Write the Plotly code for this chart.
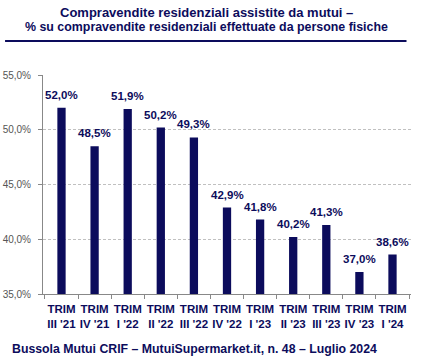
import plotly.graph_objects as go

categories = ["TRIM<br>III '21", "TRIM<br>IV '21", "TRIM<br>I '22", "TRIM<br>II '22", "TRIM<br>III '22",
              "TRIM<br>IV '22", "TRIM<br>I '23", "TRIM<br>II '23", "TRIM<br>III '23", "TRIM<br>IV '23",
              "TRIM<br>I '24"]
values = [52.0, 48.5, 51.9, 50.2, 49.3, 42.9, 41.8, 40.2, 41.3, 37.0, 38.6]
y_ticks = [35, 40, 45, 50, 55]
y_tick_labels = ["35,0%", "40,0%", "45,0%", "50,0%", "55,0%"]

title_lines = ["Compravendite residenziali assistite da mutui –",
               "% su compravendite residenziali effettuate da persone fisiche"]
footer = "Bussola Mutui CRIF – MutuiSupermarket.it, n. 48 – Luglio 2024"

NAVY = "#0c0c5c"
FONT = "Liberation Sans, Arial"
W, H = 422, 364
L, R, T, B = 43, 10.5, 75, 70
ph = H - T - B
pw = W - L - R

def py(y):  # pixel y from top -> paper
    return (H - B - y) / ph

def px(x):
    return (x - L) / pw

fig = go.Figure()
fig.add_trace(go.Bar(x=categories, y=values, marker_color=NAVY, marker_line_width=0,
                     width=0.25, hoverinfo="skip"))

for c, v in zip(categories, values):
    fig.add_annotation(x=c, y=v, xref="x", yref="y", text="<b>%s%%</b>" % f"{v:.1f}".replace(".", ","),
                       showarrow=False, yanchor="bottom", yshift=5,
                       font=dict(family=FONT, size=11.5, color=NAVY))

fig.add_annotation(xref="paper", yref="paper", x=px(207), y=py(13), text="<b>%s</b>" % title_lines[0],
                   showarrow=False, xanchor="center", yanchor="middle",
                   font=dict(family=FONT, size=13, color=NAVY))
fig.add_annotation(xref="paper", yref="paper", x=px(207), y=py(27), text="<b>%s</b>" % title_lines[1],
                   showarrow=False, xanchor="center", yanchor="middle",
                   font=dict(family=FONT, size=12.4, color=NAVY))
fig.add_annotation(xref="paper", yref="paper", x=px(10), y=py(349), text="<b>%s</b>" % footer,
                   showarrow=False, xanchor="left", yanchor="middle",
                   font=dict(family=FONT, size=12.3, color=NAVY))
fig.add_shape(type="line", xref="paper", yref="paper", x0=px(5), x1=px(407), y0=py(41), y1=py(41),
              line=dict(color=NAVY, width=2))

fig.update_layout(
    width=W, height=H, margin=dict(l=L, r=R, t=T, b=B, autoexpand=False),
    paper_bgcolor="white", plot_bgcolor="white", showlegend=False,
    bargap=0.75,
    xaxis=dict(showline=True, linecolor="#888888", linewidth=1, ticks="outside", tickson="boundaries",
               ticklen=4, tickcolor="#888888", showgrid=False, automargin=False,
               tickvals=categories, ticktext=["<b>%s</b>" % c for c in categories],
               tickfont=dict(family=FONT, size=11.5, color=NAVY), ticklabelstandoff=4,
               tickangle=0),
    yaxis=dict(range=[35, 55], tickvals=y_ticks, ticktext=y_tick_labels, automargin=False,
               showline=True, linecolor="#888888", linewidth=1, ticks="outside", ticklen=4,
               tickcolor="#888888", showgrid=True, gridcolor="#c0c0c0", griddash="3px,2px",
               gridwidth=1, zeroline=False, ticklabelstandoff=5,
               tickfont=dict(family=FONT, size=10, color="#555555")),
)

fig.write_html("out.html", config={"displayModeBar": False},
               post_script="document.body.style.margin='0';document.body.style.overflow='hidden';")
